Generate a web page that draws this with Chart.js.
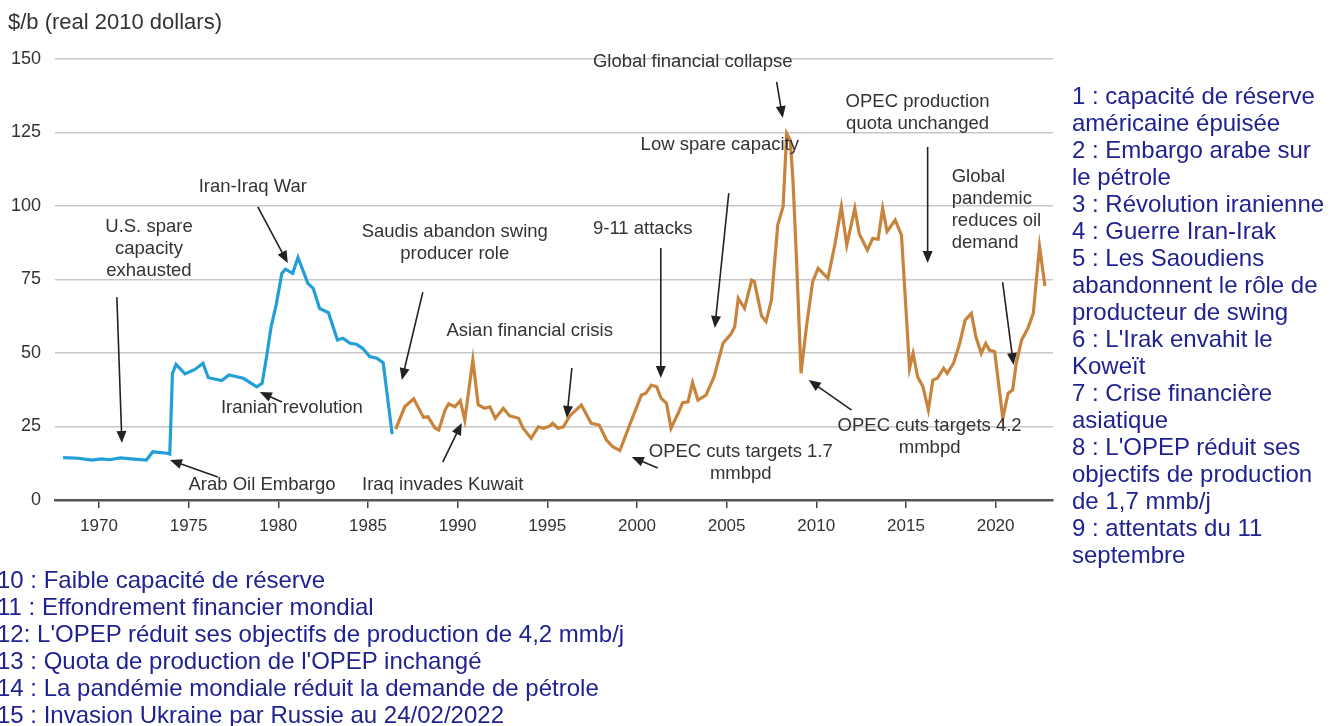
<!DOCTYPE html>
<html>
<head>
<meta charset="utf-8">
<script src="https://cdn.jsdelivr.net/npm/chart.js@4"></script>
<style>
  body { margin: 0; background: #fff; }
  #wrap { position: relative; width: 1333px; height: 726px; overflow: hidden; }
  #chart { position: absolute; left: 0; top: 0; }
  .txt { position: absolute; font-family: "Liberation Sans", Arial, sans-serif; white-space: nowrap; }
  #unit { left: 8px; top: 9px; font-size: 22px; color: #333; }
  .notes { font-size: 24px; line-height: 27px; color: #1f2390; }
  #notesRight { left: 1072px; top: 82px; }
  #notesBottom { left: -3px; top: 566px; }
</style>
</head>
<body>
<div id="wrap">
  <canvas id="chart" width="1333" height="726"></canvas>
  <div id="unit" class="txt">$/b (real 2010 dollars)</div>
  <div id="notesRight" class="txt notes"></div>
  <div id="notesBottom" class="txt notes"></div>
</div>
<script>
// oil price, real 2010 $/b
const blueYears = [1968.0, 1968.85, 1969.6, 1970.15, 1970.6, 1971.2, 1971.8, 1972.65, 1973.0, 1973.8, 1973.95,
  1974.1, 1974.3, 1974.8, 1975.35, 1975.8, 1976.1, 1976.85, 1977.25, 1978.05, 1978.8, 1979.1, 1979.35, 1979.6,
  1979.9, 1980.2, 1980.4, 1980.8, 1981.1, 1981.65, 1981.95, 1982.3, 1982.8, 1983.3, 1983.6, 1984.0, 1984.35,
  1984.7, 1985.1, 1985.5, 1985.85, 1986.35];
const blueValues = [14.4, 14.2, 13.6, 14.0, 13.7, 14.3, 14.0, 13.6, 16.4, 15.9, 15.6,
  43.1, 46.1, 42.9, 44.4, 46.5, 41.6, 40.6, 42.5, 41.4, 38.5, 39.7, 48.8, 58.9,
  66.9, 77.1, 78.5, 77.1, 82.5, 73.7, 72.0, 65.2, 63.7, 54.4, 55.0, 53.3, 53.0,
  51.6, 48.8, 48.2, 46.7, 22.4];

const orangeYears = [1986.55, 1987.05, 1987.55, 1988.1, 1988.35, 1988.75, 1988.95, 1989.3, 1989.5, 1989.85,
  1990.15, 1990.4, 1990.85, 1991.15, 1991.5, 1991.8, 1992.1, 1992.55, 1992.9, 1993.4, 1993.65, 1994.1, 1994.5,
  1994.8, 1995.15, 1995.3, 1995.6, 1995.9, 1996.25, 1996.9, 1997.45, 1997.9, 1998.3, 1998.65, 1999.05, 1999.7,
  2000.25, 2000.5, 2000.8, 2001.1, 2001.35, 2001.65, 2001.9, 2002.3, 2002.55, 2002.85, 2003.1, 2003.4, 2003.85,
  2004.3, 2004.8, 2005.25, 2005.45, 2005.65, 2006.0, 2006.4, 2006.55, 2006.95, 2007.2, 2007.5, 2007.85, 2008.15,
  2008.35, 2008.55, 2008.7, 2008.9, 2009.15, 2009.45, 2009.8, 2010.1, 2010.65, 2011.05, 2011.4, 2011.7, 2012.15,
  2012.4, 2012.85, 2013.15, 2013.45, 2013.7, 2013.95, 2014.4, 2014.75, 2015.2, 2015.4, 2015.65, 2015.95, 2016.25,
  2016.5, 2016.75, 2017.1, 2017.3, 2017.65, 2018.0, 2018.3, 2018.65, 2018.9, 2019.2, 2019.45, 2019.65, 2019.95,
  2020.4, 2020.7, 2020.95, 2021.15, 2021.45, 2021.8, 2022.1, 2022.45, 2022.75];
const orangeValues = [24.1, 31.7, 34.4, 28.1, 28.3, 24.4, 23.8, 30.6, 32.7, 31.7,
  33.8, 27.2, 47.6, 32.3, 31.2, 31.7, 27.8, 31.2, 28.6, 27.8, 24.4, 21.0, 24.9,
  24.4, 25.2, 26.1, 24.4, 24.9, 28.6, 32.3, 26.1, 25.5, 20.4, 18.1, 16.8, 27.2,
  35.7, 36.3, 39.1, 38.5, 34.6, 32.9, 24.4, 29.5, 33.1, 33.4, 39.9, 34.0, 35.7,
  41.9, 53.3, 56.5, 58.9, 68.6, 65.2, 74.8, 74.3, 62.6, 60.7, 68.0, 93.5, 99.8,
  124.7, 122.4, 108.8, 81.6, 43.1, 58.9, 74.3, 78.8, 75.4, 87.3, 99.8, 86.7, 99.2,
  90.5, 85.0, 89.0, 88.7, 99.2, 91.3, 95.2, 90.1, 44.8, 49.9, 41.9, 38.5, 30.6,
  40.8, 41.4, 44.8, 43.1, 46.5, 53.3, 61.2, 63.5, 55.5, 49.9, 53.3, 51.0, 50.4,
  27.8, 36.3, 37.4, 46.5, 54.4, 58.4, 63.5, 86.2, 72.8];

const tickYears = [1970, 1975, 1980, 1985, 1990, 1995, 2000, 2005, 2010, 2015, 2020];

// annotations, in data units (year, $/b)
const noteTexts = [
  { lines: ['U.S. spare', 'capacity', 'exhausted'], x: 1972.79, y: 92.9 },
  { lines: ['Iran-Iraq War'], x: 1978.58, y: 106.5 },
  { lines: ['Arab Oil Embargo'], x: 1979.09, y: 5.1 },
  { lines: ['Iranian revolution'], x: 1980.76, y: 31.3 },
  { lines: ['Saudis abandon swing', 'producer role'], x: 1989.84, y: 91.2 },
  { lines: ['Iraq invades Kuwait'], x: 1989.17, y: 5.1 },
  { lines: ['Asian financial crisis'], x: 1994.02, y: 57.5 },
  { lines: ['9-11 attacks'], x: 2000.32, y: 92.2 },
  { lines: ['OPEC cuts targets 1.7', 'mmbpd'], x: 2005.79, y: 16.3 },
  { lines: ['Low spare capacity'], x: 2004.62, y: 120.7 },
  { lines: ['Global financial collapse'], x: 2003.11, y: 149.0 },
  { lines: ['OPEC cuts targets 4.2', 'mmbpd'], x: 2016.32, y: 25.2 },
  { lines: ['OPEC production', 'quota unchanged'], x: 2015.65, y: 135.4 },
  { lines: ['Global', 'pandemic', 'reduces oil', 'demand'], x: 2017.55, y: 109.9, align: 'left' }
];

const noteArrows = [
  [1971.0, 69.0, 1971.28, 19.4],
  [1978.86, 99.7, 1980.53, 80.6],
  [1976.63, 7.8, 1973.96, 13.6],
  [1980.2, 33.3, 1978.97, 36.7],
  [1988.06, 70.7, 1986.89, 40.8],
  [1989.17, 12.9, 1990.23, 26.2],
  [1996.37, 44.9, 1996.09, 27.9],
  [2001.33, 85.7, 2001.33, 41.5],
  [2001.16, 10.9, 1999.71, 14.6],
  [2005.12, 104.4, 2004.34, 58.5],
  [2007.79, 142.2, 2008.13, 129.9],
  [2011.97, 30.6, 2009.58, 40.8],
  [2016.21, 120.1, 2016.21, 80.6],
  [2020.39, 74.1, 2021.0, 45.9]
];

const notesRight = [
  '1 : capacité de réserve', 'américaine épuisée', '2 : Embargo arabe sur', 'le pétrole',
  '3 : Révolution iranienne', '4 : Guerre Iran-Irak', '5 : Les Saoudiens', 'abandonnent le rôle de',
  'producteur de swing', "6 : L'Irak envahit le", 'Koweït', '7 : Crise financière', 'asiatique',
  "8 : L'OPEP réduit ses", 'objectifs de production', 'de 1,7 mmb/j', '9 : attentats du 11', 'septembre'
];
const notesBottom = [
  '10 : Faible capacité de réserve', '11 : Effondrement financier mondial',
  "12: L'OPEP réduit ses objectifs de production de 4,2 mmb/j", "13 : Quota de production de l'OPEP inchangé",
  '14 : La pandémie mondiale réduit la demande de pétrole', '15 : Invasion Ukraine par Russie au 24/02/2022'
];

document.getElementById('notesRight').innerHTML = notesRight.join('<br>');
document.getElementById('notesBottom').innerHTML = notesBottom.join('<br>');

const FONT = '"Liberation Sans", Arial, sans-serif';

function drawArrow(ctx, x1, y1, x2, y2) {
  const ang = Math.atan2(y2 - y1, x2 - x1);
  const len = 12, half = 5;
  ctx.beginPath();
  ctx.moveTo(x1, y1);
  ctx.lineTo(x2 - Math.cos(ang) * len * 0.8, y2 - Math.sin(ang) * len * 0.8);
  ctx.stroke();
  ctx.beginPath();
  ctx.moveTo(x2, y2);
  ctx.lineTo(x2 - Math.cos(ang) * len - Math.sin(ang) * half, y2 - Math.sin(ang) * len + Math.cos(ang) * half);
  ctx.lineTo(x2 - Math.cos(ang) * len + Math.sin(ang) * half, y2 - Math.sin(ang) * len - Math.cos(ang) * half);
  ctx.closePath();
  ctx.fill();
}

const notesPlugin = {
  id: 'notes',
  afterDatasetsDraw(chart) {
    const { ctx, scales: { x, y } } = chart;
    ctx.save();
    ctx.font = '18.5px ' + FONT;
    ctx.fillStyle = '#333';
    ctx.textBaseline = 'middle';
    noteTexts.forEach(n => {
      ctx.textAlign = n.align || 'center';
      const px = x.getPixelForValue(n.x);
      const py = y.getPixelForValue(n.y);
      n.lines.forEach((t, i) => ctx.fillText(t, px, py + i * 22));
    });
    ctx.strokeStyle = '#222';
    ctx.fillStyle = '#222';
    ctx.lineWidth = 1.6;
    noteArrows.forEach(a => {
      drawArrow(ctx, x.getPixelForValue(a[0]), y.getPixelForValue(a[1]),
        x.getPixelForValue(a[2]), y.getPixelForValue(a[3]));
    });
    ctx.restore();
  }
};

new Chart(document.getElementById('chart').getContext('2d'), {
  type: 'line',
  data: {
    datasets: [
      {
        data: blueYears.map((yr, i) => ({ x: yr, y: blueValues[i] })),
        borderColor: '#239fd8',
        borderWidth: 3.2,
        pointRadius: 0,
        tension: 0
      },
      {
        data: orangeYears.map((yr, i) => ({ x: yr, y: orangeValues[i] })),
        borderColor: '#c8843c',
        borderWidth: 3.2,
        pointRadius: 0,
        tension: 0
      }
    ]
  },
  options: {
    responsive: false,
    animation: false,
    devicePixelRatio: 1,
    layout: { padding: { left: 0, top: 59, right: 280, bottom: 166 } },
    plugins: {
      legend: { display: false },
      tooltip: { enabled: false }
    },
    scales: {
      x: {
        type: 'linear',
        min: 1967.55,
        max: 2023.2,
        afterFit: s => { s.height = 60; },
        afterBuildTicks: s => { s.ticks = tickYears.map(v => ({ value: v })); },
        grid: { drawOnChartArea: false, drawTicks: true, tickLength: 8, tickColor: '#444', lineWidth: 1.5 },
        border: { display: true, color: '#555', width: 2.5 },
        ticks: {
          color: '#333',
          padding: 8,
          maxRotation: 0,
          font: { family: FONT, size: 17 },
          callback: v => String(v)
        }
      },
      y: {
        min: 0,
        max: 150,
        afterFit: s => { s.width = 55; },
        grid: { color: '#c8c8c8', lineWidth: 1.5, drawTicks: false },
        border: { display: false },
        ticks: {
          stepSize: 25,
          color: '#333',
          padding: 14,
          font: { family: FONT, size: 18 }
        }
      }
    }
  },
  plugins: [notesPlugin]
});
</script>
</body>
</html>
